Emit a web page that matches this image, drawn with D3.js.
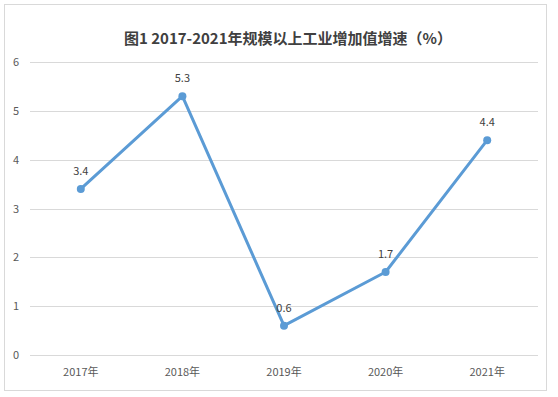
<!DOCTYPE html>
<html>
<head>
<meta charset="utf-8">
<script src="https://cdn.jsdelivr.net/npm/d3@7"></script>
<style>
  body { margin: 0; background: #fff; }
  text { font-family: "Microsoft YaHei", "Noto Sans CJK SC", sans-serif; }
</style>
</head>
<body>
<svg width="558" height="397"></svg>
<script>
var years = ['2017年', '2018年', '2019年', '2020年', '2021年'];
var growth = [3.4, 5.3, 0.6, 1.7, 4.4];
var yTicks = [0, 1, 2, 3, 4, 5, 6];
var title = '图1  2017-2021年规模以上工业增加值增速（%）';

var svg = d3.select('svg');

// chart frame
svg.append('rect')
    .attr('x', 4.5).attr('y', 4.5)
    .attr('width', 542).attr('height', 386)
    .attr('fill', '#fff')
    .attr('stroke', '#d9d9d9');

var x = d3.scalePoint().domain(years).range([30, 538]).padding(0.5);
var y = d3.scaleLinear().domain([0, 6]).range([355, 62]);

// gridlines
svg.append('g')
    .selectAll('line')
    .data(yTicks)
    .enter().append('line')
    .attr('x1', 30).attr('x2', 538)
    .attr('y1', function(d) { return Math.round(y(d)) + 0.5; })
    .attr('y2', function(d) { return Math.round(y(d)) + 0.5; })
    .attr('stroke', '#d9d9d9');

// y labels
svg.append('g')
    .selectAll('text')
    .data(yTicks)
    .enter().append('text')
    .attr('x', 16)
    .attr('y', function(d) { return y(d) + 4; })
    .attr('text-anchor', 'middle')
    .attr('font-size', 11)
    .attr('fill', '#595959')
    .text(function(d) { return d; });

// x labels
svg.append('g')
    .selectAll('text')
    .data(years)
    .enter().append('text')
    .attr('x', function(d) { return x(d); })
    .attr('y', 376)
    .attr('text-anchor', 'middle')
    .attr('font-size', 11)
    .attr('fill', '#595959')
    .text(function(d) { return d; });

var pts = years.map(function(d, i) { return {cat: d, v: growth[i]}; });

var line = d3.line()
    .x(function(d) { return x(d.cat); })
    .y(function(d) { return y(d.v); });

svg.append('path')
    .datum(pts)
    .attr('d', line)
    .attr('fill', 'none')
    .attr('stroke', '#5b9bd5')
    .attr('stroke-width', 3)
    .attr('stroke-linejoin', 'round');

svg.append('g')
    .selectAll('circle')
    .data(pts)
    .enter().append('circle')
    .attr('cx', function(d) { return x(d.cat); })
    .attr('cy', function(d) { return y(d.v); })
    .attr('r', 4)
    .attr('fill', '#5b9bd5');

svg.append('g')
    .selectAll('text')
    .data(pts)
    .enter().append('text')
    .attr('x', function(d) { return x(d.cat); })
    .attr('y', function(d) { return y(d.v) - 14; })
    .attr('text-anchor', 'middle')
    .attr('font-size', 11)
    .attr('fill', '#404040')
    .text(function(d) { return d.v.toFixed(1); });

svg.append('text')
    .attr('x', 288).attr('y', 44)
    .attr('text-anchor', 'middle')
    .attr('font-size', 15)
    .attr('font-weight', 'bold')
    .attr('fill', '#404040')
    .text(title);
</script>
</body>
</html>
